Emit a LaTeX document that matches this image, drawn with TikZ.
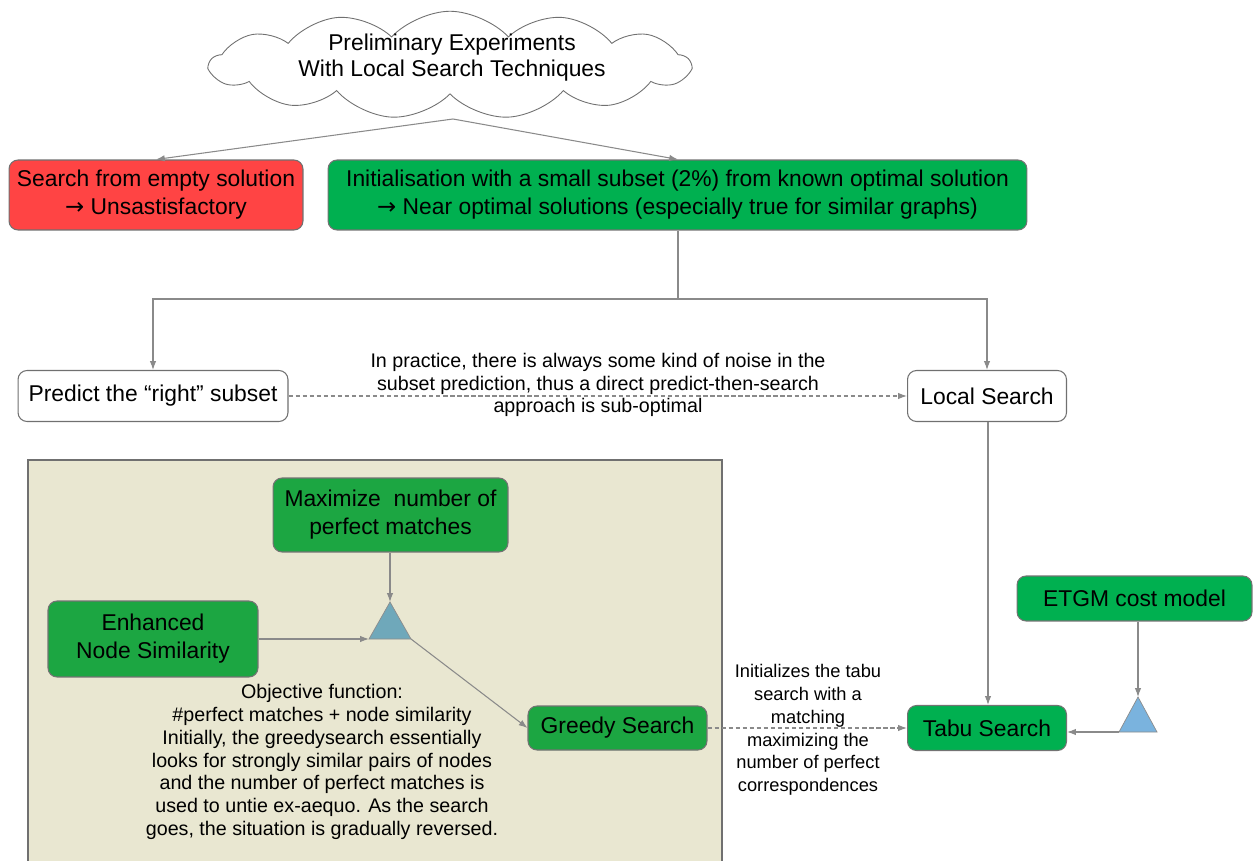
\documentclass[tikz,border=0pt]{standalone}
\usepackage{fontspec}
\setmainfont{Liberation Sans}
\newfontfamily\arrowfont{DejaVu Sans}
\usetikzlibrary{shapes.symbols,arrows.meta}

\definecolor{wire}{HTML}{8A8A8A}
\definecolor{edge}{HTML}{707070}
\definecolor{okgreen}{HTML}{00B050}
\definecolor{ingreen}{HTML}{1CA642}
\definecolor{badred}{HTML}{FF4444}
\definecolor{panelbg}{HTML}{E9E7D1}
\definecolor{triA}{HTML}{6FA8BA}
\definecolor{triB}{HTML}{7AB3DE}

\begin{document}
\begin{tikzpicture}[x=0.02cm,y=-0.02cm,
  box/.style={draw=edge, line width=0.6pt, rounded corners=0.18cm, align=center,
    inner sep=0pt, font=\fontsize{13}{16}\selectfont},
  greenbox/.style={box, fill=okgreen, draw=black!55},
  panelbox/.style={box, fill=ingreen, draw=black!55},
  whitebox/.style={box, fill=white},
  redbox/.style={box, fill=badred},
  note/.style={align=center, inner sep=0pt, font=\fontsize{11.2}{13}\selectfont},
  smallnote/.style={align=center, inner sep=0pt, font=\fontsize{10.4}{13}\selectfont},
  arr/.style={draw=wire, line width=0.6pt, -{Latex[length=5pt,width=3.6pt]}},
  dasharr/.style={arr, dashed, dash pattern=on 2.5pt off 1.5pt},
  plain/.style={draw=wire, line width=0.6pt}]
\useasboundingbox (0,0) rectangle (1257,861);

% shaded panel holding the greedy stage
\fill[panelbg] (28,880) -- (28,460) -- (722,460) -- (722,880) -- cycle;
\draw[edge, line width=0.6pt] (28,880) -- (28,460) -- (722,460) -- (722,880);

% top cloud
\coordinate (cb) at (453,119);
\node[cloud, cloud puffs=13, cloud puff arc=95, cloud ignores aspect,
  draw=edge, line width=0.5pt, fill=white, inner sep=0pt,
  minimum width=9.6cm, minimum height=2.15cm] (cloud) at (450,65) {};
\node[align=center, font=\fontsize{13}{14.8}\selectfont] (cloudtext) at (452,58)
  {Preliminary Experiments\\With Local Search Techniques};

% first row
\node[redbox, minimum width=5.88cm, minimum height=1.4cm] (empty) at (156,195)
  {Search from empty solution\\{\arrowfont →} Unsastisfactory};
\node[greenbox, minimum width=13.98cm, minimum height=1.4cm] (init) at (677.5,195)
  {Initialisation with a small subset (2\%) from known optimal solution\\{\arrowfont →} Near optimal solutions (especially true for similar graphs)};

\draw[arr] (cb) -- (empty.north);
\draw[arr] (cb) -- (init.north -| 678,0);

% second row
\node[whitebox, minimum width=5.4cm, minimum height=1.02cm] (pred) at (153,396)
  {Predict the “right” subset};
\node[whitebox, minimum width=3.18cm, minimum height=1.02cm] (ls) at (987,396)
  {Local Search};

\coordinate (split) at (678,299);
\draw[plain] (init.south -| split) -- (split);
\draw[arr] (split) -| (pred.north);
\draw[arr] (split) -| (ls.north);

\draw[dasharr] (pred.east) -- (ls.west);
\node[note] (noise) at (598,385)
  {In practice, there is always some kind of noise in the\\subset prediction, thus a direct predict-then-search\\approach is sub-optimal};

% greedy stage
\node[panelbox, minimum width=4.7cm, minimum height=1.48cm] (maxpm) at (390.5,515)
  {Maximize~~number of\\perfect matches};
\node[panelbox, minimum width=4.2cm, minimum height=1.52cm] (enh) at (153,639)
  {Enhanced\\Node Similarity};
\node[panelbox, minimum width=3.58cm, minimum height=0.88cm] (greedy) at (617.5,728)
  {Greedy Search};

\coordinate (ta) at (390,602);
\coordinate (tl) at (369,639);
\coordinate (tr) at (411,639);
\fill[triA] (ta) -- (tl) -- (tr) -- cycle;
\draw[black!45, line width=0.4pt] (ta) -- (tl) -- (tr) -- cycle;

\draw[arr] (maxpm.south -| ta) -- (ta);
\draw[arr] (enh.east |- tl) -- (tl);
\draw[arr] (tr) -- (greedy.west);

\node[note] (objective) at (322,762)
  {Objective function:\\\#perfect matches + node similarity\\Initially, the greedysearch essentially\\looks for strongly similar pairs of nodes\\and the number of perfect matches is\\used to untie ex-aequo. As the search\\goes, the situation is gradually reversed.};

% tabu stage
\node[greenbox, minimum width=3.18cm, minimum height=0.9cm] (tabu) at (987,728)
  {Tabu Search};
\node[greenbox, minimum width=4.7cm, minimum height=0.9cm] (etgm) at (1134.5,598.5)
  {ETGM cost model};

\coordinate (ua) at (1138,697);
\coordinate (ul) at (1119,732);
\coordinate (ur) at (1157,732);
\fill[triB] (ua) -- (ul) -- (ur) -- cycle;
\draw[black!45, line width=0.4pt] (ua) -- (ul) -- (ur) -- cycle;

\draw[arr] (etgm.south -| ua) -- (ua);
\draw[arr] (ul) -- (ul -| tabu.east);
\draw[arr] (ls.south -| 988,0) -- (tabu.north -| 988,0);

\draw[dasharr] (greedy.east) -- (tabu.west);
\node[smallnote] (initnote) at (808,730)
  {Initializes the tabu\\search with a\\matching\\maximizing the\\number of perfect\\correspondences};
\end{tikzpicture}
\end{document}
